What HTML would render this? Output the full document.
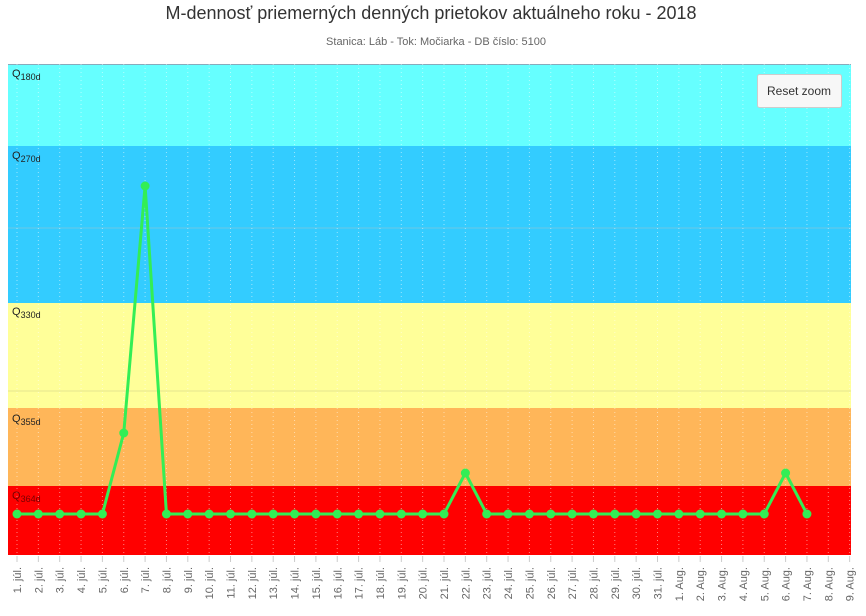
<!DOCTYPE html>
<html><head><meta charset="utf-8"><style>
body{margin:0;background:#fff;width:866px;height:611px;overflow:hidden;font-family:"Liberation Sans",sans-serif}
</style></head><body>
<svg width="866" height="611" xmlns="http://www.w3.org/2000/svg" font-family="Liberation Sans, DejaVu Sans, sans-serif">
<text x="431" y="19" text-anchor="middle" font-size="18" fill="#333">M-dennosť priemerných denných prietokov aktuálneho roku - 2018</text>
<text x="436" y="45" text-anchor="middle" font-size="11" fill="#666">Stanica: Láb - Tok: Močiarka - DB číslo: 5100</text>
<rect x="8" y="64" width="843" height="82" fill="#66ffff"/>
<rect x="8" y="146" width="843" height="157" fill="#33ccff"/>
<rect x="8" y="303" width="843" height="105" fill="#ffff99"/>
<rect x="8" y="408" width="843" height="78" fill="#ffb659"/>
<rect x="8" y="486" width="843" height="69" fill="#ff0000"/>
<line x1="8" y1="64.5" x2="851" y2="64.5" stroke="#8ab" />
<line x1="8" y1="228" x2="851" y2="228" stroke="#6bc9e6" stroke-width="1"/>
<line x1="8" y1="391" x2="851" y2="391" stroke="#e6e690" stroke-width="1"/>
<g id="grid" stroke="#ffffff" stroke-opacity="0.5" stroke-dasharray="1,3"></g>
<g id="ticks" stroke="#ccc"></g>
<g id="labels" font-size="11" fill="#666"></g>
<g font-size="11" fill="#222">
<text x="12" y="77">Q<tspan font-size="9" dy="3">180d</tspan></text>
<text x="12" y="159">Q<tspan font-size="9" dy="3">270d</tspan></text>
<text x="12" y="315">Q<tspan font-size="9" dy="3">330d</tspan></text>
<text x="12" y="422">Q<tspan font-size="9" dy="3">355d</tspan></text>
<text x="12" y="499" fill="#700">Q<tspan font-size="9" dy="3">364d</tspan></text>
</g>
<polyline id="ln" fill="none" stroke="#33ee55" stroke-width="3"/>
<g id="pts" fill="#33ee55"></g>
<rect x="757.5" y="74.5" width="84" height="33" rx="2" fill="#f7f7f7" stroke="#ccc"/>
<text x="799" y="95" text-anchor="middle" font-size="12" fill="#333">Reset zoom</text>
<script>
var ys=[];for(var i=0;i<38;i++)ys.push(514);ys[5]=433;ys[6]=186;ys[21]=473;ys[36]=473;
var ns="http://www.w3.org/2000/svg",g=document.getElementById('grid'),t=document.getElementById('ticks'),lb=document.getElementById('labels'),p=document.getElementById('pts'),pts=[];
for(var i=0;i<40;i++){var x=17+i*21.35;
var l=document.createElementNS(ns,'line');l.setAttribute('x1',x);l.setAttribute('x2',x);l.setAttribute('y1',64);l.setAttribute('y2',555);g.appendChild(l);
var k=document.createElementNS(ns,'line');k.setAttribute('x1',x);k.setAttribute('x2',x);k.setAttribute('y1',556);k.setAttribute('y2',562);t.appendChild(k);
var s=i<31?(i+1)+'. júl.':(i-30)+'. Aug.';
var tx=document.createElementNS(ns,'text');tx.setAttribute('transform','translate('+(x+4)+',567) rotate(-90)');tx.setAttribute('text-anchor','end');tx.textContent=s;lb.appendChild(tx);
if(i<38){pts.push(x+','+ys[i]);var c=document.createElementNS(ns,'circle');c.setAttribute('cx',x);c.setAttribute('cy',ys[i]);c.setAttribute('r',4.5);p.appendChild(c);}}
document.getElementById('ln').setAttribute('points',pts.join(' '));
</script>
</svg>
</body></html>
